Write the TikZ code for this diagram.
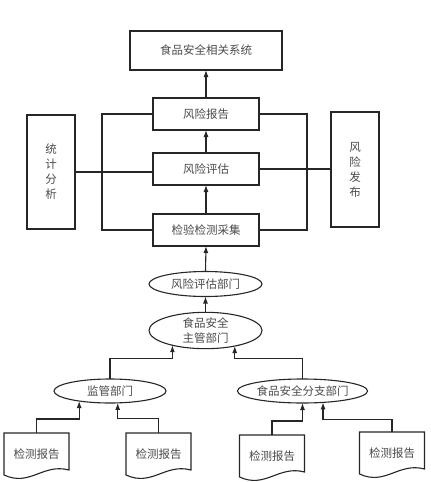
\documentclass[tikz,border=0pt]{standalone}
\usepackage{fontspec}
\setmainfont{Noto Sans CJK SC}
\usetikzlibrary{shapes.geometric,arrows.meta,calc}
\definecolor{linec}{HTML}{262626}
\definecolor{textc}{HTML}{4A4A4A}
\tikzset{
  base/.style={draw=linec, line width=1.1pt, text=textc, font=\fontsize{11.5}{15}\selectfont, inner sep=0pt, outer sep=0pt, align=center},
  rbox/.style={base, rectangle},
  ebox/.style={base, ellipse},
  docbox/.style={rectangle, text=textc, font=\fontsize{11.5}{15}\selectfont, inner sep=0pt, outer sep=0pt, minimum width=65pt, minimum height=42pt},
  conn/.style={draw=linec, line width=1.1pt},
  arr/.style={conn, -{Latex[length=7pt,width=5pt]}},
}
\begin{document}
\begin{tikzpicture}[x=1pt,y=-1pt]
\useasboundingbox (0,0) rectangle (431,482);
% boxes
\node[rbox, minimum width=152pt, minimum height=39pt] (top) at (206,50.5) {食品安全相关系统};
\node[rbox, minimum width=106pt, minimum height=32pt] (report) at (206,114) {风险报告};
\node[rbox, minimum width=106pt, minimum height=32pt] (eval) at (206,169) {风险评估};
\node[rbox, minimum width=106pt, minimum height=32pt] (collect) at (206,230) {检验检测采集};
\node[rbox, minimum width=48pt, minimum height=114pt] (stat) at (51,172) {统\\计\\分\\析};
\node[rbox, minimum width=48pt, minimum height=115pt] (pub) at (355,169.5) {风\\险\\发\\布};
% ellipses
\node[ebox, minimum width=113pt, minimum height=25pt] (riskdept) at (205.5,284) {风险评估部门};
\node[ebox, minimum width=113pt, minimum height=33pt] (main) at (205.5,330.5) {食品安全\\主管部门};
\node[ebox, minimum width=112pt, minimum height=24pt] (jg) at (110,391) {监管部门};
\node[ebox, minimum width=113pt, minimum height=24pt] (branch) at (302.5,391) {食品安全分支部门};
% documents
\node[docbox] (d1) at (36.5,454) {检测报告};
\node[docbox] (d2) at (158.5,454) {检测报告};
\node[docbox] (d3) at (272,456) {检测报告};
\node[docbox] (d4) at (392,453) {检测报告};
\foreach \d in {d1,d2,d3,d4}{
  \draw[conn, line join=miter] (\d.north west) -- (\d.south west)
    .. controls ($(\d.south west)+(26,12)$) and ($(\d.south east)+(-26,-12)$) .. ($(\d.south east)+(0,-5)$)
    -- (\d.north east) -- cycle;
}
% main chain
\draw[arr] (report.north) -- (top.south);
\draw[arr] (eval.north) -- (report.south);
\draw[arr] (collect.north) -- (eval.south);
\draw[arr] (riskdept.north) -- (collect.south);
\draw[arr] (main.north) -- (riskdept.south);
% frame lines
\coordinate (lf) at (102,114);
\coordinate (rf) at (307,114);
\draw[conn] (report.west) -- (lf) |- (collect.west);
\draw[conn] (report.east) -- (rf) |- (collect.east);
\draw[conn] (stat.east) -- (stat.east -| eval.west);
\draw[conn] (eval.east) -- (eval.east -| pub.west);
% lower tree
\draw[arr] (jg.north) |- ($(main.204.5)+(0,13)$) -- (main.204.5);
\draw[arr] (branch.north) |- ($(main.332.4)+(0,12.6)$) -- (main.332.4);
\draw[arr] (d1.north) |- ($(jg.198.6)+(0,18)$) -- (jg.198.6);
\draw[arr] (d2.north) |- ($(jg.303.9)+(0,16)$) -- (jg.303.9);
\draw[arr] (d3.north) |- ($(branch.south)+(0,18)$) -- (branch.south);
\draw[arr] (d4.north) |- ($(branch.331.4)+(0,17)$) -- (branch.331.4);
\end{tikzpicture}
\end{document}
